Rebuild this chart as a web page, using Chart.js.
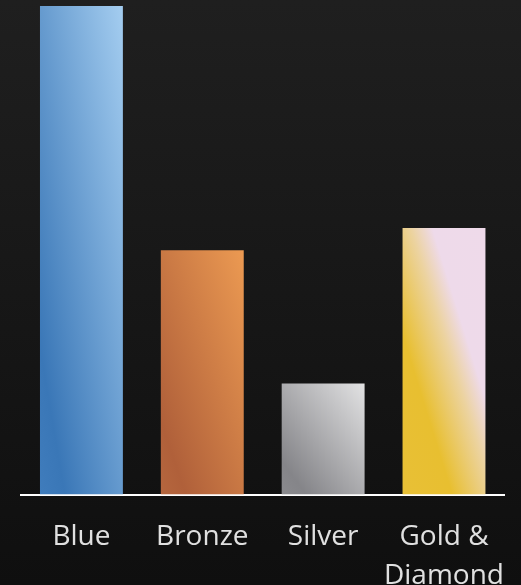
<!DOCTYPE html>
<html lang="en">
  <head>
    <meta charset="UTF-8" />
    <title>Tiers</title>
    <script src="https://cdn.jsdelivr.net/npm/chart.js"></script>
    <style>
      html, body { margin: 0; padding: 0; overflow: hidden; }
      body { width: 521px; height: 585px; background: linear-gradient(to bottom, #1f1f1f, #0f0f0f); }
      /* taller than the window so the second label line runs off the bottom edge */
      #wrap { width: 521px; height: 611px; position: relative; }
    </style>
  </head>
  <body>
    <div id="wrap"><canvas id="tierChart"></canvas></div>

    <script>
      const categories = ["Blue", "Bronze", "Silver", ["Gold &", "Diamond"]];
      const values = [44, 22, 10, 24];
      // gradient stops per bar, bottom-left corner (0) to top-right corner (1)
      const barStops = [
        [[0, "#3f7cbc"], [0.15, "#3a77b7"], [1, "#a4cdf0"]],
        [[0, "#b5663e"], [0.15, "#b0603a"], [1, "#ec9a52"]],
        [[0, "#8a8a8e"], [0.15, "#858589"], [1, "#e2e2e3"]],
        [[0, "#e8c036"], [0.3, "#e8bf30"], [0.55, "#ecd3a0"], [0.68, "#eedaea"], [1, "#efdaea"]]
      ];
      const barFrac = 0.686;

      // gradient laid out like an SVG objectBoundingBox: isolines follow the box's other diagonal
      function barGradient(ctx) {
        const chart = ctx.chart;
        const i = ctx.dataIndex;
        if (!chart.chartArea || i === undefined) return barStops[0][1][1];
        const xs = chart.scales.x, ys = chart.scales.y;
        const cx = xs.getPixelForValue(i);
        const w = (xs.width / categories.length) * barFrac;
        const top = ys.getPixelForValue(values[i]);
        const base = ys.getPixelForValue(0);
        const h = base - top;
        const k = 2 * w * h / (w * w + h * h);
        const x0 = cx - w / 2;
        const g = chart.ctx.createLinearGradient(x0, base, x0 + h * k, base - w * k);
        barStops[i].forEach(s => g.addColorStop(s[0], s[1]));
        return g;
      }

      new Chart(document.getElementById("tierChart"), {
        type: "bar",
        data: {
          labels: categories,
          datasets: [{
            data: values,
            backgroundColor: barGradient,
            borderWidth: 0,
            barPercentage: barFrac,
            categoryPercentage: 1
          }]
        },
        options: {
          responsive: true,
          maintainAspectRatio: false,
          animation: false,
          layout: { padding: { left: 21, right: 16, top: 6, bottom: 0 } },
          plugins: { legend: { display: false }, tooltip: { enabled: false } },
          scales: {
            x: {
              grid: { display: false },
              border: { display: true, color: "#ffffff", width: 2 },
              ticks: {
                color: "#e0e0e0",
                padding: 15,
                autoSkip: false,
                maxRotation: 0,
                font: { family: "Open Sans", size: 28, lineHeight: 1.4 }
              }
            },
            y: { display: false, min: 0, max: 44 }
          }
        }
      });
    </script>
  </body>
</html>
